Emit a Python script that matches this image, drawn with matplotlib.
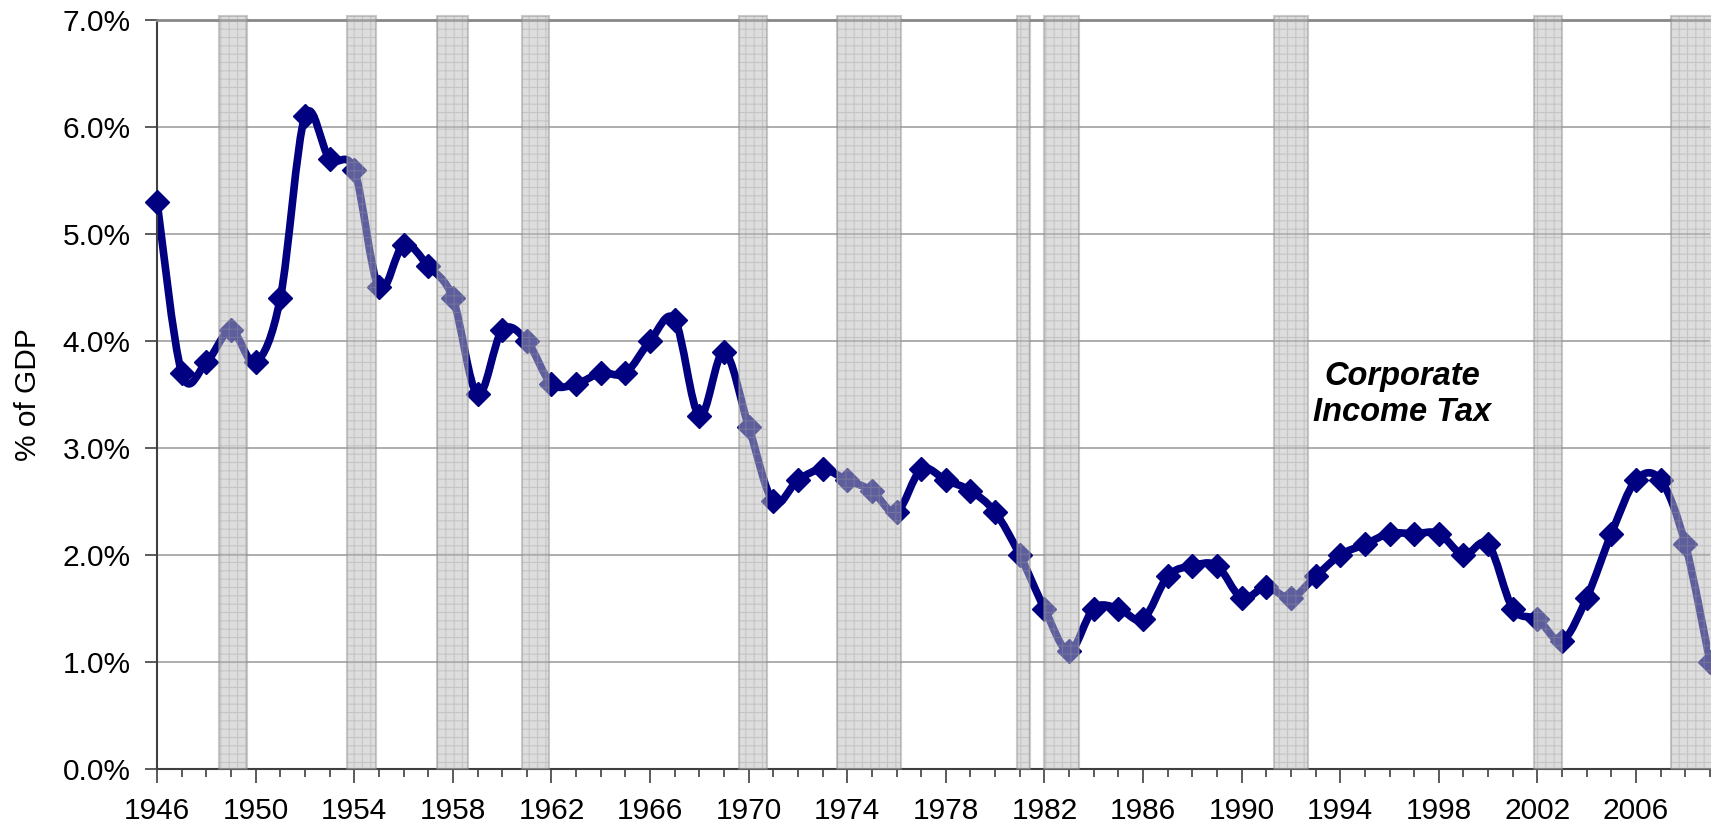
import matplotlib
matplotlib.use("Agg")
import matplotlib.pyplot as plt
from matplotlib.path import Path
from matplotlib.patches import PathPatch
from matplotlib.ticker import FuncFormatter, MultipleLocator

plt.rcParams['font.family'] = ['Liberation Sans', 'DejaVu Sans']
plt.rcParams['hatch.linewidth'] = 0.8

# Corporate income tax receipts, % of GDP
years = list(range(1946, 2010))
values = [5.3, 3.7, 3.8, 4.1, 3.8, 4.4, 6.1, 5.7, 5.6, 4.5,
          4.9, 4.7, 4.4, 3.5, 4.1, 4.0, 3.6, 3.6, 3.7, 3.7,
          4.0, 4.2, 3.3, 3.9, 3.2, 2.5, 2.7, 2.8, 2.7, 2.6,
          2.4, 2.8, 2.7, 2.6, 2.4, 2.0, 1.5, 1.1, 1.5, 1.5,
          1.4, 1.8, 1.9, 1.9, 1.6, 1.7, 1.6, 1.8, 2.0, 2.1,
          2.2, 2.2, 2.2, 2.0, 2.1, 1.5, 1.4, 1.2, 1.6, 2.2,
          2.7, 2.7, 2.1, 1.0]

# recession periods (shaded)
rec_start = [1948.5, 1953.72, 1957.35, 1960.8, 1969.6, 1973.6, 1980.9, 1982.0, 1991.3, 2001.85, 2007.4]
rec_end = [1949.66, 1954.9, 1958.6, 1961.9, 1970.75, 1976.2, 1981.4, 1983.4, 1992.7, 2003.0, 2009.2]

fig = plt.figure(figsize=(17.11, 8.32), dpi=100)
ax = fig.add_axes([0.0918, 0.0757, 0.9076, 0.9003])

# smoothed line (Excel-style bezier through the points)
pts = list(zip(years, values))
verts = [pts[0]]
codes = [Path.MOVETO]
n = len(pts)
for i in range(n - 1):
    p0 = pts[max(i - 1, 0)]
    p1 = pts[i]
    p2 = pts[i + 1]
    p3 = pts[min(i + 2, n - 1)]
    c1 = (p1[0] + (p2[0] - p0[0]) / 6, p1[1] + (p2[1] - p0[1]) / 6)
    c2 = (p2[0] - (p3[0] - p1[0]) / 6, p2[1] - (p3[1] - p1[1]) / 6)
    verts += [c1, c2, p2]
    codes += [Path.CURVE4] * 3
ax.add_patch(PathPatch(Path(verts, codes), fill=False, edgecolor='#000080',
                       linewidth=5.5, zorder=2, capstyle='round', joinstyle='round'))
ax.plot(years, values, linestyle='none', marker='D', markersize=12.5,
        color='#000080', zorder=3, clip_on=False)

for s, e in zip(rec_start, rec_end):
    ax.axvspan(s, e, ymin=0, ymax=1.005, facecolor=(0.74, 0.74, 0.74, 0.5),
               edgecolor=(0.6, 0.6, 0.6, 0.35), hatch='++', linewidth=0,
               zorder=4, clip_on=False)
    ax.axvspan(s, e, ymin=0, ymax=1.005, fill=False,
               edgecolor=(0.55, 0.55, 0.55, 0.45), linewidth=1.5,
               zorder=4, clip_on=False)

ax.text(1996.5, 3.5, 'Corporate\nIncome Tax', ha='center', va='center',
        fontsize=23.5, fontweight='bold', fontstyle='italic', zorder=5,
        linespacing=1.2)

ax.set_xlim(1946, 2009)
ax.set_ylim(0, 7)
ax.set_xticks(range(1946, 2007, 4))
ax.xaxis.set_minor_locator(MultipleLocator(1))
ax.yaxis.set_major_formatter(FuncFormatter(lambda v, p: f'{v:.1f}%'))
ax.tick_params(axis='both', which='major', labelsize=21.5, direction='out',
               color='#404040', width=1.2)
ax.tick_params(axis='x', which='major', length=10, pad=10)
ax.tick_params(axis='x', which='minor', length=6, color='#404040', width=1.2)
ax.tick_params(axis='y', which='major', length=9, pad=10)
ax.set_ylabel('% of GDP', fontsize=21.5, labelpad=15)

ax.grid(axis='y', color='#a0a0a0', linewidth=1.2, zorder=0.5)
ax.set_axisbelow(True)
for side in ['left', 'bottom']:
    ax.spines[side].set_color('#404040')
    ax.spines[side].set_linewidth(1.5)
ax.spines['top'].set_color('#888888')
ax.spines['top'].set_linewidth(2)
ax.spines['right'].set_visible(False)

fig.savefig('out.png', dpi=100)
